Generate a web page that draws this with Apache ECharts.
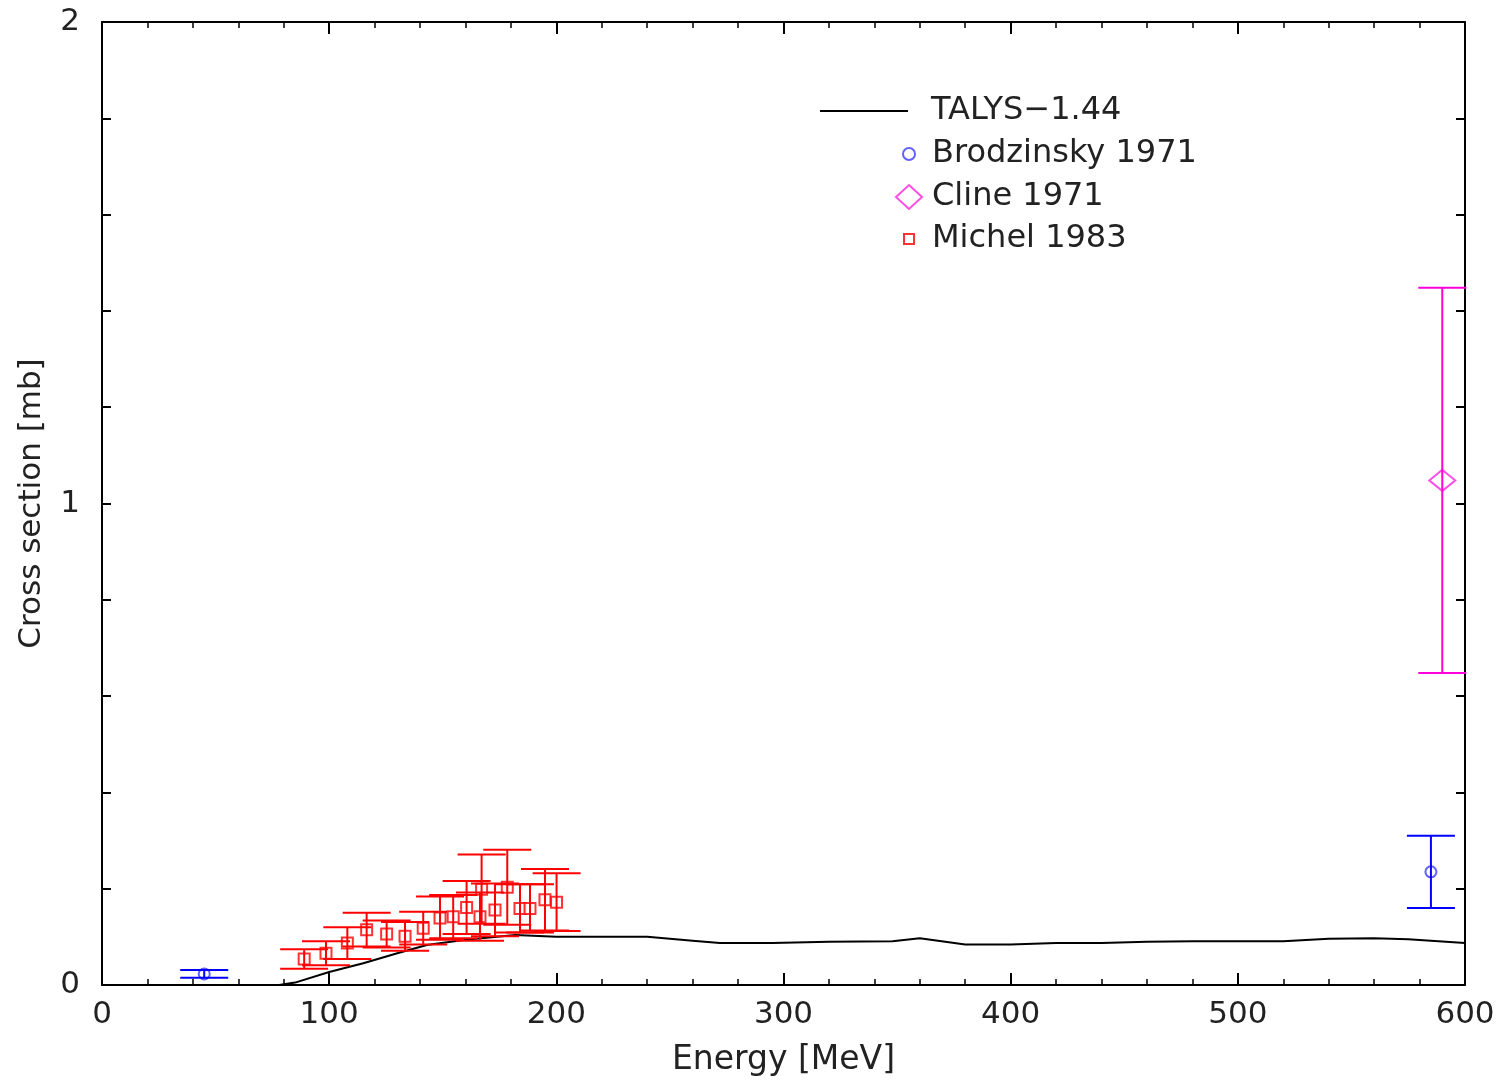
<!DOCTYPE html>
<html>
<head>
<meta charset="utf-8">
<script src="https://cdn.jsdelivr.net/npm/echarts@6/dist/echarts.min.js"></script>
<style>
  html, body { margin: 0; padding: 0; background: #fff; }
  #chart { width: 1502px; height: 1082px; }
</style>
</head>
<body>
<div id="chart"></div>
<script>
// TALYS-1.44 calculation (energy in MeV, cross section in mb)
const talysE  = [0, 20, 40, 60, 78, 85, 100, 115, 130, 143, 160, 182, 200, 240, 260, 272, 295, 320, 348, 360, 380, 400, 420, 440, 460, 480, 520, 540, 560, 575, 600];
const talysXS = [0, 0, 0, 0, 0, 0.005, 0.027, 0.045, 0.066, 0.083, 0.094, 0.104, 0.100, 0.100, 0.092, 0.087, 0.087, 0.090, 0.091, 0.097, 0.084, 0.084, 0.087, 0.087, 0.090, 0.091, 0.091, 0.096, 0.097, 0.095, 0.087];

// Brodzinsky 1971
const brodE   = [45, 585];
const brodXS  = [0.023, 0.235];
const brodErr = [0.008, 0.075];

// Cline 1971
const clineE   = [590];
const clineXS  = [1.048];
const clineErr = [0.40];

// Michel 1983
const michE   = [89, 98.6, 108, 116.5, 125.3, 133.4, 141.4, 148.8, 154.6, 160.5, 166.4, 167.1, 173, 178.4, 184, 188.4, 195, 200.1];
const michXS  = [0.054, 0.066, 0.087, 0.115, 0.106, 0.101, 0.118, 0.139, 0.142, 0.161, 0.142, 0.199, 0.156, 0.203, 0.159, 0.159, 0.177, 0.172];
const michErr = [0.020, 0.025, 0.033, 0.035, 0.028, 0.030, 0.034, 0.045, 0.045, 0.055, 0.050, 0.072, 0.055, 0.078, 0.050, 0.050, 0.064, 0.060];

const FONT = 'DejaVu Sans, Liberation Sans, sans-serif';
const FS = 31;
const CAP = 24; // half width of error bar caps, px

function points(xs, ys) {
  return xs.map((x, i) => [x, ys[i]]);
}
function errData(xs, ys, es) {
  return xs.map((x, i) => [x, ys[i], ys[i] - es[i], ys[i] + es[i]]);
}
function errSeries(name, data, color) {
  return {
    name: name,
    type: 'custom',
    z: 5,
    data: data,
    encode: { x: 0, y: [1, 2, 3] },
    renderItem: function (params, api) {
      const lo = api.coord([api.value(0), api.value(2)]);
      const hi = api.coord([api.value(0), api.value(3)]);
      const st = { stroke: color, lineWidth: 2 };
      return {
        type: 'group',
        children: [
          { type: 'line', shape: { x1: lo[0], y1: lo[1], x2: hi[0], y2: hi[1] }, style: st },
          { type: 'line', shape: { x1: lo[0] - CAP, y1: lo[1], x2: lo[0] + CAP, y2: lo[1] }, style: st },
          { type: 'line', shape: { x1: hi[0] - CAP, y1: hi[1], x2: hi[0] + CAP, y2: hi[1] }, style: st }
        ]
      };
    }
  };
}

const tickLine = { color: '#000', width: 2 };
function xAx(pos, labels) {
  return {
    type: 'value', position: pos, min: 0, max: 600, interval: 100,
    axisLine: { show: true, onZero: false, lineStyle: tickLine },
    axisTick: { show: true, inside: true, length: 12, lineStyle: tickLine },
    minorTick: { show: true, splitNumber: 5, length: 6, lineStyle: { color: '#000', width: 1.5 } },
    splitLine: { show: false },
    axisLabel: { show: labels, fontSize: FS, color: '#222', margin: 14, fontFamily: FONT },
    name: labels ? 'Energy [MeV]' : '',
    nameLocation: 'middle', nameGap: 59,
    nameTextStyle: { fontSize: 33, color: '#222', fontFamily: FONT }
  };
}
function yAx(pos, labels) {
  return {
    type: 'value', position: pos, min: 0, max: 2, interval: 1,
    axisLine: { show: true, onZero: false, lineStyle: tickLine },
    axisTick: { show: true, inside: true, length: 9, lineStyle: tickLine },
    minorTick: { show: true, splitNumber: 5, length: 9, lineStyle: tickLine },
    splitLine: { show: false },
    axisLabel: { show: labels, fontSize: FS, color: '#222', margin: 22, fontFamily: FONT },
    name: labels ? 'Cross section [mb]' : '',
    nameLocation: 'middle', nameGap: 55,
    nameTextStyle: { fontSize: FS, color: '#222', fontFamily: FONT }
  };
}
function legendAt(item, left, top, w, h, pad) {
  return {
    data: [item], left: left, top: top, padding: 0,
    itemWidth: w, itemHeight: h,
    textStyle: { fontSize: 32, color: '#222', fontFamily: FONT, padding: [0, 0, 0, pad] },
    selectedMode: false
  };
}

const chart = echarts.init(document.getElementById('chart'), null, { renderer: 'canvas' });
chart.setOption({
  backgroundColor: '#fff',
  animation: false,
  grid: { left: 102, right: 37, top: 22, bottom: 96 },
  xAxis: [xAx('bottom', true), xAx('top', false)],
  yAxis: [yAx('left', true), yAx('right', false)],
  legend: [
    legendAt({ name: 'TALYS\u22121.44', icon: 'rect' }, 820, 95, 88, 2, 18),
    legendAt('Brodzinsky 1971', 902, 138, 12, 12, 12),
    legendAt('Cline 1971', 895, 181, 26, 24, 5),
    legendAt('Michel 1983', 903, 223, 10, 10, 13)
  ],
  series: [
    {
      name: 'TALYS\u22121.44', type: 'line', symbol: 'none',
      data: points(talysE, talysXS),
      lineStyle: { color: '#000', width: 2 },
      itemStyle: { color: '#000' },
      z: 2
    },
    {
      name: 'Brodzinsky 1971', type: 'scatter', symbol: 'emptyCircle', symbolSize: 11,
      data: points(brodE, brodXS),
      itemStyle: { color: '#3a3aff', borderWidth: 1.5 }, z: 3
    },
    {
      name: 'Cline 1971', type: 'scatter', symbol: 'emptyDiamond', symbolSize: [26, 21],
      data: points(clineE, clineXS),
      itemStyle: { color: '#ff22dd', borderWidth: 2 }, z: 3
    },
    {
      name: 'Michel 1983', type: 'scatter', symbol: 'emptyRect', symbolSize: 11,
      data: points(michE, michXS),
      itemStyle: { color: '#ff0000', borderWidth: 2 }, z: 3
    },
    errSeries('Brodzinsky err', errData(brodE, brodXS, brodErr), '#0000ff'),
    errSeries('Cline err', errData(clineE, clineXS, clineErr), '#ff00dd'),
    errSeries('Michel err', errData(michE, michXS, michErr), '#ff0000')
  ]
});
</script>
</body>
</html>
